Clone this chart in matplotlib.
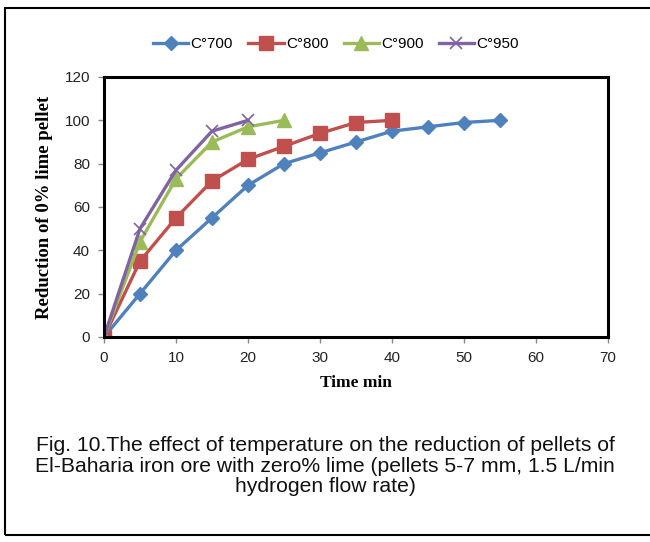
import matplotlib
matplotlib.use("Agg")
import matplotlib.pyplot as plt
from matplotlib.patches import Rectangle

t700 = [0, 5, 10, 15, 20, 25, 30, 35, 40, 45, 50, 55]
r700 = [0, 20, 40, 55, 70, 80, 85, 90, 95, 97, 99, 100]
t800 = [0, 5, 10, 15, 20, 25, 30, 35, 40]
r800 = [0, 35, 55, 72, 82, 88, 94, 99, 100]
t900 = [0, 5, 10, 15, 20, 25]
r900 = [0, 44, 73, 90, 97, 100]
t950 = [0, 5, 10, 15, 20]
r950 = [0, 50, 77, 95, 100]
labels = ["C°700", "C°800", "C°900", "C°950"]
xticks = [0, 10, 20, 30, 40, 50, 60, 70]
yticks = [0, 20, 40, 60, 80, 100, 120]

fig = plt.figure(figsize=(6.5, 5.42), dpi=100)
W, H = 650, 542

ax = fig.add_axes([104 / W, 1 - 337 / H, (608 - 104) / W, (337 - 77) / H])
ax.patch.set_alpha(0)
ax.set_zorder(2)

ax.plot(t700, r700, color="#4F81BD", marker="D", markersize=7.5, lw=2.4, label=labels[0])
ax.plot(t800, r800, color="#C0504D", marker="s", markersize=10, lw=2.4, label=labels[1])
ax.plot(t900, r900, color="#9BBB59", marker="^", markersize=10, lw=2.4, label=labels[2])
ax.plot(t950, r950, color="#8064A2", marker="x", markersize=9, mew=1.2, lw=2.4, label=labels[3])

ax.set_xlim(0, 70)
ax.set_ylim(0, 120)
ax.set_xticks(xticks)
ax.set_yticks(yticks)
for s in ax.spines.values():
    s.set_linewidth(2.2)
    s.set_color("black")
ax.tick_params(direction="out", length=4, width=1, color="#888888", labelsize=11, pad=6)
for lb in ax.get_xticklabels() + ax.get_yticklabels():
    lb.set_family("Liberation Sans")
    lb.set_color("#222222")

ax.set_xlabel("Time min", family="Liberation Serif", fontweight="bold", fontsize=12.5, labelpad=7)
ax.set_ylabel("Reduction of 0% lime pellet", family="Liberation Serif", fontweight="bold",
              fontsize=13.5, labelpad=8)

leg = fig.legend(loc="center", bbox_to_anchor=(336 / W, 1 - 44 / H), ncol=4, frameon=False,
                 prop={"family": "Liberation Sans", "size": 11}, handlelength=2.3,
                 columnspacing=1.0, handletextpad=0.15)

fig.text(0.5, 1 - 466 / H,
         "Fig. 10.The effect of temperature on the reduction of pellets of\n"
         "El-Baharia iron ore with zero% lime (pellets 5-7 mm, 1.5 L/min\n"
         "hydrogen flow rate)",
         ha="center", va="center", fontsize=15.2, family="Liberation Sans",
         linespacing=1.12, color="#111111")

fig.patches.append(Rectangle((5 / W, 1 - 535 / H), 660 / W, 527 / H, transform=fig.transFigure,
                             fill=False, edgecolor="black", lw=1.5, zorder=5))

fig.savefig("out.png", dpi=100)
